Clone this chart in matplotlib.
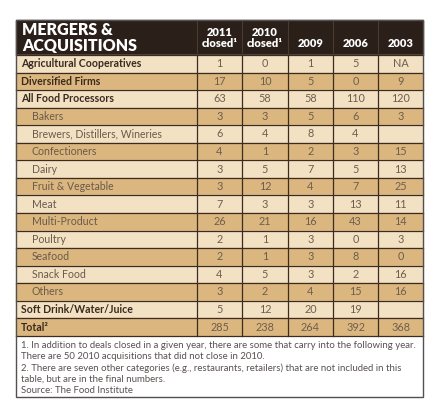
import matplotlib
matplotlib.use('Agg')
import matplotlib.pyplot as plt
from matplotlib.patches import Rectangle

plt.rcParams['font.family'] = ['Lato', 'DejaVu Sans']

# table contents
columns = ['2011\nclosed\u00b9', '2010\nclosed\u00b9', '2009', '2006', '2003']
rows = ['Agricultural Cooperatives', 'Diversified Firms', 'All Food Processors',
        'Bakers', 'Brewers, Distillers, Wineries', 'Confectioners', 'Dairy',
        'Fruit & Vegetable', 'Meat', 'Multi-Product', 'Poultry', 'Seafood',
        'Snack Food', 'Others', 'Soft Drink/Water/Juice', 'Total\u00b2']
indented = [False, False, False, True, True, True, True, True, True, True,
            True, True, True, True, False, False]
values = [
    ['1', '0', '1', '5', 'NA'],
    ['17', '10', '5', '0', '9'],
    ['63', '58', '58', '110', '120'],
    ['3', '3', '5', '6', '3'],
    ['6', '4', '8', '4', ''],
    ['4', '1', '2', '3', '15'],
    ['3', '5', '7', '5', '13'],
    ['3', '12', '4', '7', '25'],
    ['7', '3', '3', '13', '11'],
    ['26', '21', '16', '43', '14'],
    ['2', '1', '3', '0', '3'],
    ['2', '1', '3', '8', '0'],
    ['4', '5', '3', '2', '16'],
    ['3', '2', '4', '15', '16'],
    ['5', '12', '20', '19', ''],
    ['285', '238', '264', '392', '368'],
]
footnotes = [
    '1. In addition to deals closed in a given year, there are some that carry into the following year.',
    'There are 50 2010 acquisitions that did not close in 2010.',
    '2. There are seven other categories (e.g., restaurants, retailers) that are not included in this',
    'table, but are in the final numbers.',
    'Source: The Food Institute',
]

# layout (pixels)
W, H = 435, 408
left, right = 16, 423
col_edges = [16, 197, 242, 288, 333, 378, 423]
head_top, head_bot = 20, 55
row_h = 17.55
foot_bot = 397

dark = '#2b1f1a'
light_row = '#f2e1c3'
dark_row = '#dbb77f'
line_c = '#3b2b21'
num_c = '#6e5e4e'
label_c = '#3a2a1e'
sub_c = '#6a5a4a'

fig = plt.figure(figsize=(W / 100, H / 100), dpi=100)
ax = fig.add_axes([0, 0, 1, 1])
ax.set_xlim(0, W)
ax.set_ylim(H, 0)
ax.axis('off')

# header
ax.add_patch(Rectangle((left, head_top), right - left, head_bot - head_top, color=dark, zorder=1))
ax.text(22, 38, 'MERGERS &\nACQUISITIONS', color='white', fontsize=11.5, fontweight='heavy',
        va='center', ha='left', linespacing=1.0)
for j, c in enumerate(columns):
    cx = (col_edges[j + 1] + col_edges[j + 2]) / 2
    ax.text(cx, 49, c, color='white', fontsize=8, fontweight='heavy',
            ha='center', va='bottom', linespacing=1.0)
for x in col_edges[1:-1]:
    ax.plot([x, x], [head_top, head_bot], color='#4a3a30', lw=0.8, zorder=2)

# body
for i, name in enumerate(rows):
    y0 = head_bot + i * row_h
    fc = light_row if i % 2 == 0 else dark_row
    ax.add_patch(Rectangle((left, y0), right - left, row_h, color=fc, zorder=1))
    yc = y0 + row_h / 2
    if indented[i]:
        ax.text(32, yc, name, fontsize=7.6, color=sub_c, va='center', ha='left')
    else:
        ax.text(21, yc, name, fontsize=7.6, color=label_c, fontweight='bold', va='center', ha='left')
    for j, v in enumerate(values[i]):
        cx = (col_edges[j + 1] + col_edges[j + 2]) / 2
        ax.text(cx, yc, v, fontsize=7.8, color=num_c, va='center', ha='center')
    ax.plot([left, right], [y0, y0], color=line_c, lw=0.9, zorder=3)

body_bot = head_bot + len(rows) * row_h
ax.plot([left, right], [body_bot, body_bot], color=line_c, lw=0.9, zorder=3)
for x in col_edges[1:-1]:
    ax.plot([x, x], [head_bot, body_bot], color=line_c, lw=0.9, zorder=3)

# footnote box
ax.add_patch(Rectangle((left, body_bot), right - left, foot_bot - body_bot, facecolor='white',
                       edgecolor='none', zorder=1))
for k, t in enumerate(footnotes):
    ax.text(21, body_bot + 9.5 + k * 11.3, t, fontsize=6.9, color='#5a5050', va='center', ha='left')

# outer border
ax.add_patch(Rectangle((left, head_top), right - left, foot_bot - head_top, facecolor='none',
                       edgecolor='#555050', lw=1.0, zorder=4))

fig.savefig('out.png', dpi=100, facecolor='white')
